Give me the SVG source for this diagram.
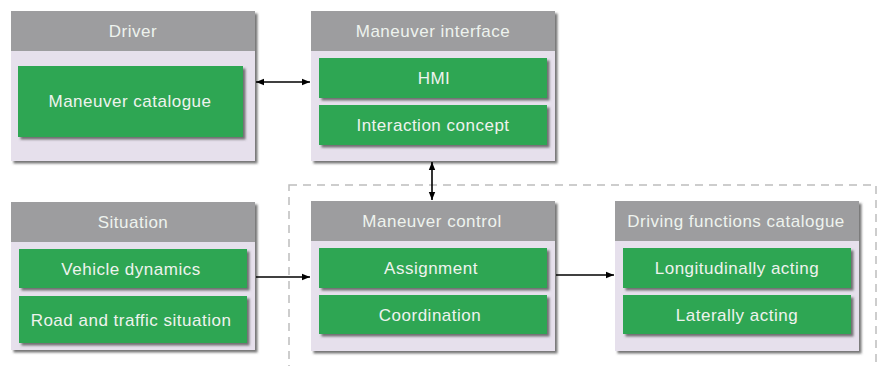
<svg xmlns="http://www.w3.org/2000/svg" width="883" height="366" viewBox="0 0 883 366">
<style>
.hdr{fill:#9d9d9f}
.body{fill:#e6e0ec}
.g{fill:#2ea652}
.t{font-family:"Liberation Sans",Arial,sans-serif;font-size:17px;letter-spacing:0.5px;fill:#eef3ee;text-anchor:middle}
.c{stroke:#000;stroke-width:1.6;fill:none}
</style>
<defs>
<filter id="sh" x="-10%" y="-10%" width="130%" height="130%">
<feDropShadow dx="2.5" dy="2.5" stdDeviation="1.2" flood-color="#555" flood-opacity="0.8"/>
</filter>
<marker id="ah" viewBox="0 0 10 10" refX="10" refY="5" markerWidth="8" markerHeight="8" orient="auto-start-reverse" markerUnits="userSpaceOnUse">
<path d="M0,1 L10,5 L0,9 z" fill="#000"/>
</marker>
</defs>
<rect x="289" y="185" width="587" height="200" fill="none" stroke="#bdbdbd" stroke-width="1.5" stroke-dasharray="8,6"/>
<g id="driver">
<g filter="url(#sh)"><rect class="body" x="11" y="11" width="244" height="150"/></g>
<rect class="hdr" x="11" y="11" width="244" height="40"/>
<text class="t" x="133" y="37">Driver</text>
<rect class="g" x="18" y="66" width="225" height="71" filter="url(#sh)"/>
<text class="t" x="130" y="107">Maneuver catalogue</text>
</g>
<g id="interface">
<g filter="url(#sh)"><rect class="body" x="311" y="11" width="244" height="150"/></g>
<rect class="hdr" x="311" y="11" width="244" height="40"/>
<text class="t" x="433" y="37">Maneuver interface</text>
<rect class="g" x="319" y="58" width="228" height="40" filter="url(#sh)"/>
<text class="t" x="434" y="84">HMI</text>
<rect class="g" x="319" y="105" width="228" height="40" filter="url(#sh)"/>
<text class="t" x="433" y="131">Interaction concept</text>
</g>
<g id="situation">
<g filter="url(#sh)"><rect class="body" x="11" y="202" width="244" height="148"/></g>
<rect class="hdr" x="11" y="202" width="244" height="40"/>
<text class="t" x="133" y="228">Situation</text>
<rect class="g" x="19" y="249" width="228" height="39" filter="url(#sh)"/>
<text class="t" x="131" y="275">Vehicle dynamics</text>
<rect class="g" x="19" y="296" width="228" height="47" filter="url(#sh)"/>
<text class="t" x="131" y="326">Road and traffic situation</text>
</g>
<g id="control">
<g filter="url(#sh)"><rect class="body" x="311" y="201" width="244" height="150"/></g>
<rect class="hdr" x="311" y="201" width="244" height="40"/>
<text class="t" x="432" y="227">Maneuver control</text>
<rect class="g" x="319" y="248" width="228" height="40" filter="url(#sh)"/>
<text class="t" x="431" y="274">Assignment</text>
<rect class="g" x="319" y="295" width="228" height="39" filter="url(#sh)"/>
<text class="t" x="430" y="321">Coordination</text>
</g>
<g id="functions">
<g filter="url(#sh)"><rect class="body" x="615" y="201" width="244" height="150"/></g>
<rect class="hdr" x="615" y="201" width="244" height="40"/>
<text class="t" x="736" y="227">Driving functions catalogue</text>
<rect class="g" x="623" y="248" width="228" height="40" filter="url(#sh)"/>
<text class="t" x="737" y="274">Longitudinally acting</text>
<rect class="g" x="623" y="295" width="228" height="39" filter="url(#sh)"/>
<text class="t" x="737" y="321">Laterally acting</text>
</g>
<g id="connectors">
<line class="c" x1="256" y1="82" x2="310" y2="82" marker-start="url(#ah)" marker-end="url(#ah)"/>
<line class="c" x1="432" y1="162" x2="432" y2="200" marker-start="url(#ah)" marker-end="url(#ah)"/>
<line class="c" x1="256" y1="277" x2="310" y2="277" marker-end="url(#ah)"/>
<line class="c" x1="556" y1="275" x2="614" y2="275" marker-end="url(#ah)"/>
</g>
</svg>
